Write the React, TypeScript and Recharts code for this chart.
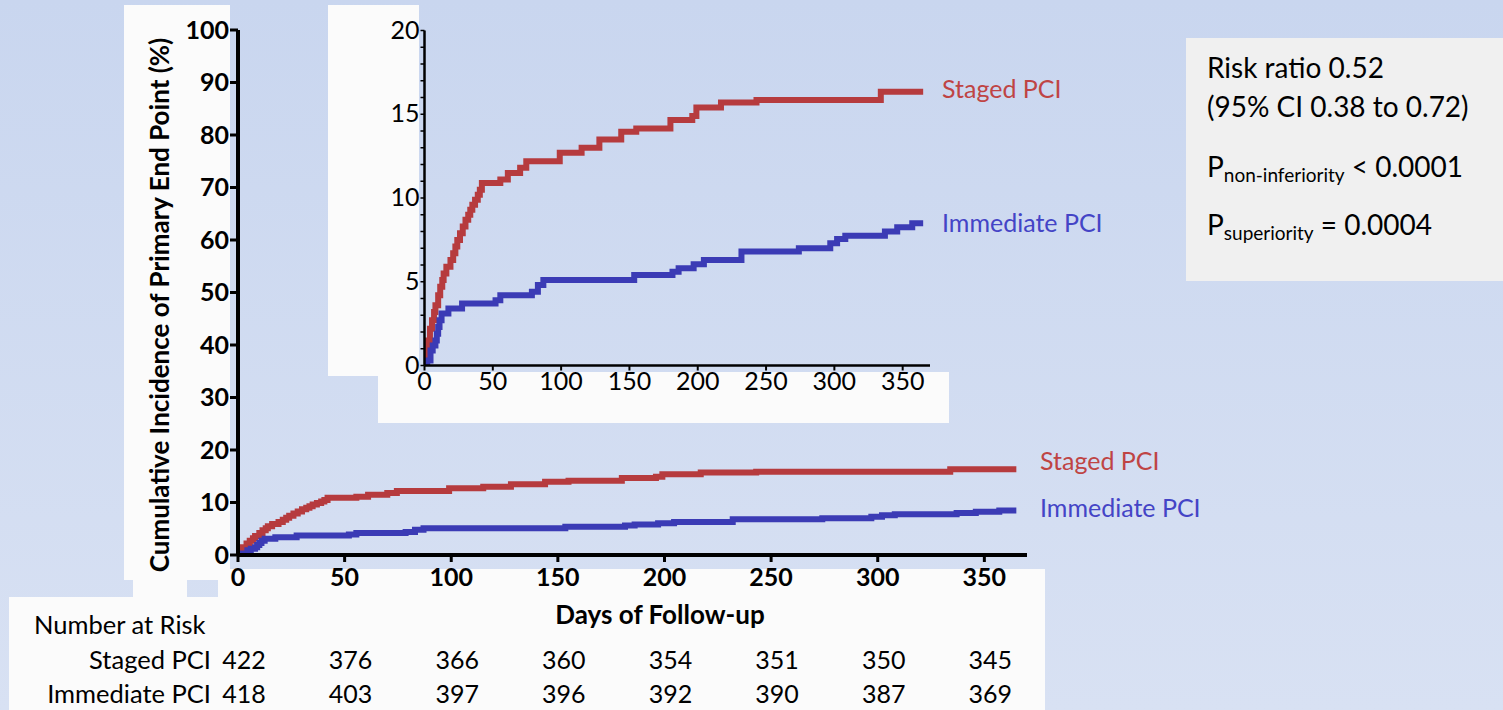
import React from 'react';
import { LineChart, Line, XAxis, YAxis } from 'recharts';

const FONT = 'Lato, "Open Sans", sans-serif';
const W = 1503;
const H = 710;

const RED = '#b63b3e';
const BLUE = '#3b3bb5';
const RED_TEXT = '#bf4444';
const BLUE_TEXT = '#4444c6';

const dayTicks = [0, 50, 100, 150, 200, 250, 300, 350];
const mainYTicks = [0, 10, 20, 30, 40, 50, 60, 70, 80, 90, 100];
const insetYTicks = [0, 1, 2, 3, 4, 5, 6, 7, 8, 9, 10, 11, 12, 13, 14, 15, 16, 17, 18, 19, 20];

const seriesNames = ['Staged PCI', 'Immediate PCI'];

const stagedCurve = [
  { day: 0, pct: 0 }, { day: 1, pct: 0.6 }, { day: 2, pct: 1.5 }, { day: 4, pct: 2.2 },
  { day: 5.5, pct: 2.7 }, { day: 7, pct: 3.2 }, { day: 8, pct: 3.6 }, { day: 10, pct: 4.2 },
  { day: 11.5, pct: 4.7 }, { day: 13, pct: 5.1 }, { day: 14, pct: 5.5 }, { day: 16, pct: 5.9 },
  { day: 19, pct: 6.3 }, { day: 21, pct: 6.7 }, { day: 22.6, pct: 7.1 }, { day: 24, pct: 7.5 },
  { day: 26, pct: 7.9 }, { day: 28, pct: 8.3 }, { day: 30, pct: 8.7 }, { day: 32, pct: 9.0 },
  { day: 33.5, pct: 9.3 }, { day: 35, pct: 9.6 }, { day: 37, pct: 9.9 }, { day: 39, pct: 10.2 },
  { day: 40.5, pct: 10.5 }, { day: 42, pct: 10.9 }, { day: 55.5, pct: 11.1 }, { day: 61, pct: 11.5 },
  { day: 70, pct: 11.8 }, { day: 74.5, pct: 12.2 }, { day: 99, pct: 12.7 }, { day: 115, pct: 13.0 },
  { day: 128, pct: 13.5 }, { day: 144, pct: 13.95 }, { day: 155, pct: 14.15 }, { day: 180, pct: 14.65 },
  { day: 196, pct: 14.9 }, { day: 199, pct: 15.4 }, { day: 217, pct: 15.7 }, { day: 243, pct: 15.85 },
  { day: 334, pct: 16.35 }, { day: 365, pct: 16.35 },
];

const immediateCurve = [
  { day: 0, pct: 0 }, { day: 2, pct: 0.3 }, { day: 4.4, pct: 0.9 }, { day: 6, pct: 1.2 },
  { day: 8, pct: 1.5 }, { day: 9, pct: 1.9 }, { day: 10, pct: 2.3 }, { day: 11, pct: 2.7 },
  { day: 12.5, pct: 3.1 }, { day: 17.5, pct: 3.4 }, { day: 27.5, pct: 3.7 }, { day: 52, pct: 3.9 },
  { day: 55.5, pct: 4.2 }, { day: 78.6, pct: 4.4 }, { day: 83, pct: 4.8 }, { day: 87, pct: 5.1 },
  { day: 153.5, pct: 5.4 }, { day: 181.5, pct: 5.6 }, { day: 186, pct: 5.8 }, { day: 197, pct: 6.05 },
  { day: 204.5, pct: 6.3 }, { day: 232, pct: 6.8 }, { day: 274, pct: 7.0 }, { day: 297, pct: 7.3 },
  { day: 302, pct: 7.55 }, { day: 308, pct: 7.75 }, { day: 337, pct: 8.0 }, { day: 346, pct: 8.25 },
  { day: 357, pct: 8.5 }, { day: 365, pct: 8.5 },
];

const riskDays = [0, 50, 100, 150, 200, 250, 300, 350];
const riskStaged = [422, 376, 366, 360, 354, 351, 350, 345];
const riskImmediate = [418, 403, 397, 396, 392, 390, 387, 369];

const statLines = ['Risk ratio 0.52', '(95% CI 0.38 to 0.72)'];

// main chart geometry
const MAIN_LEFT = 238;
const MAIN_TOP = 30;
const MAIN_BOTTOM = 555;
const MAIN_RIGHT = 1027;
const X_MAX = 370;
const mainX = (d: number) => MAIN_LEFT + (d / X_MAX) * (MAIN_RIGHT - MAIN_LEFT);

const InsetYTick = (props: any) => {
  const { x, y, payload } = props;
  if (payload.value % 5 !== 0) return <g />;
  return (
    <text x={x} y={y - 2} textAnchor="end" dominantBaseline="central" fontFamily={FONT} fontSize={25} fill="#000">
      {payload.value}
    </text>
  );
};

export default function App() {
  return (
    <div
      style={{
        position: 'absolute',
        left: 0,
        top: 0,
        width: W,
        height: H,
        overflow: 'hidden',
        background: 'linear-gradient(180deg, #c9d6ef 0%, #d8e1f3 100%)',
        fontFamily: FONT,
      }}
    >
      <svg width={W} height={H} style={{ position: 'absolute', left: 0, top: 0 }}>
        <rect x={124} y={5} width={106} height={575} fill="#fbfbfb" />
        <rect x={133} y={579} width={54} height={19} fill="#fbfbfb" />
        <rect x={218} y={569} width={827} height={29} fill="#fbfbfb" />
        <rect x={9} y={597} width={1036} height={113} fill="#fbfbfb" />
        <rect x={328} y={5} width={91} height={371} fill="#fbfbfb" />
        <rect x={378} y={372} width={571} height={51} fill="#fbfbfb" />
        <rect x={1186} y={38} width={317} height={243} fill="#f0f0f0" />
      </svg>

      {/* main chart */}
      <div style={{ position: 'absolute', left: 0, top: 0 }}>
        <LineChart
          width={W}
          height={H}
          margin={{ top: MAIN_TOP, right: W - MAIN_RIGHT, bottom: 0, left: 0 }}
        >
          <XAxis
            type="number"
            dataKey="day"
            domain={[0, X_MAX]}
            ticks={dayTicks}
            interval={0}
            height={H - MAIN_BOTTOM}
            axisLine={{ stroke: '#000', strokeWidth: 4 }}
            tickLine={{ stroke: '#000', strokeWidth: 3 }}
            tickSize={7}
            tickMargin={6}
            tick={{ fill: '#000', fontFamily: FONT, fontSize: 25, fontWeight: 700 }}
            allowDataOverflow
          />
          <YAxis
            type="number"
            domain={[0, 100]}
            ticks={mainYTicks}
            interval={0}
            width={MAIN_LEFT}
            axisLine={{ stroke: '#000', strokeWidth: 4 }}
            tickLine={{ stroke: '#000', strokeWidth: 3 }}
            tickSize={8}
            tickMargin={1}
            tick={{ fill: '#000', fontFamily: FONT, fontSize: 25, fontWeight: 700 }}
            allowDataOverflow
          />
          <Line
            data={stagedCurve}
            dataKey="pct"
            type="stepAfter"
            stroke={RED}
            strokeWidth={6}
            dot={false}
            isAnimationActive={false}
          />
          <Line
            data={immediateCurve}
            dataKey="pct"
            type="stepAfter"
            stroke={BLUE}
            strokeWidth={6}
            dot={false}
            isAnimationActive={false}
          />
        </LineChart>
      </div>

      {/* inset chart */}
      <div style={{ position: 'absolute', left: 330, top: 0 }}>
        <LineChart width={620} height={430} margin={{ top: 30.5, right: 20, bottom: 0, left: 0 }}>
          <XAxis
            type="number"
            dataKey="day"
            domain={[0, X_MAX]}
            ticks={dayTicks}
            interval={0}
            height={64.5}
            axisLine={{ stroke: '#000', strokeWidth: 2.5 }}
            tickLine={{ stroke: '#000', strokeWidth: 2 }}
            tickSize={5}
            tickMargin={2}
            tick={{ fill: '#000', fontFamily: FONT, fontSize: 25 }}
            allowDataOverflow
          />
          <YAxis
            type="number"
            domain={[0, 20]}
            ticks={insetYTicks}
            interval={0}
            width={94.5}
            axisLine={{ stroke: '#000', strokeWidth: 2.5 }}
            tickLine={{ stroke: '#000', strokeWidth: 1.5 }}
            tickSize={4}
            tickMargin={1}
            tick={<InsetYTick />}
            allowDataOverflow
          />
          <Line
            data={stagedCurve}
            dataKey="pct"
            type="stepAfter"
            stroke={RED}
            strokeWidth={6}
            dot={false}
            isAnimationActive={false}
          />
          <Line
            data={immediateCurve}
            dataKey="pct"
            type="stepAfter"
            stroke={BLUE}
            strokeWidth={6}
            dot={false}
            isAnimationActive={false}
          />
        </LineChart>
      </div>

      {/* overlay texts */}
      <svg width={W} height={H} style={{ position: 'absolute', left: 0, top: 0, pointerEvents: 'none' }}>
        <text
          x={0}
          y={0}
          transform="translate(159,305) rotate(-90)"
          textAnchor="middle"
          dominantBaseline="central"
          fontFamily={FONT}
          fontWeight={700}
          fontSize={26}
          fill="#000"
        >
          Cumulative Incidence of Primary End Point (%)
        </text>
        <text x={660} y={614} textAnchor="middle" dominantBaseline="central" fontFamily={FONT} fontWeight={700} fontSize={26} fill="#000">
          Days of Follow-up
        </text>

        {/* series labels main */}
        <text x={1040} y={460} dominantBaseline="central" fontFamily={FONT} fontSize={25} fill={RED_TEXT}>{seriesNames[0]}</text>
        <text x={1040} y={507} dominantBaseline="central" fontFamily={FONT} fontSize={25} fill={BLUE_TEXT}>{seriesNames[1]}</text>
        {/* series labels inset */}
        <text x={942} y={88} dominantBaseline="central" fontFamily={FONT} fontSize={25} fill={RED_TEXT}>{seriesNames[0]}</text>
        <text x={942} y={222} dominantBaseline="central" fontFamily={FONT} fontSize={25} fill={BLUE_TEXT}>{seriesNames[1]}</text>

        {/* number at risk */}
        <text x={34} y={624} dominantBaseline="central" fontFamily={FONT} fontSize={25.5} fill="#000">Number at Risk</text>
        <text x={211} y={659} textAnchor="end" dominantBaseline="central" fontFamily={FONT} fontSize={25.5} fill="#000">{seriesNames[0]}</text>
        <text x={211} y={693} textAnchor="end" dominantBaseline="central" fontFamily={FONT} fontSize={25.5} fill="#000">{seriesNames[1]}</text>
        {riskDays.map((d, i) => (
          <text key={'s' + d} x={mainX(d) + 6} y={659} textAnchor="middle" dominantBaseline="central" fontFamily={FONT} fontSize={25} fill="#000">
            {riskStaged[i]}
          </text>
        ))}
        {riskDays.map((d, i) => (
          <text key={'m' + d} x={mainX(d) + 6} y={693} textAnchor="middle" dominantBaseline="central" fontFamily={FONT} fontSize={25} fill="#000">
            {riskImmediate[i]}
          </text>
        ))}

        {/* stats box */}
        <text x={1207} y={67} dominantBaseline="central" fontFamily={FONT} fontSize={28} fill="#000">{statLines[0]}</text>
        <text x={1207} y={106} dominantBaseline="central" fontFamily={FONT} fontSize={28} fill="#000">{statLines[1]}</text>
        <text x={1207} y={166} dominantBaseline="central" fontFamily={FONT} fontSize={28} fill="#000">
          P
          <tspan fontSize={19} dy={8}>non-inferiority</tspan>
          <tspan dy={-8}> &lt; 0.0001</tspan>
        </text>
        <text x={1207} y={224} dominantBaseline="central" fontFamily={FONT} fontSize={28} fill="#000">
          P
          <tspan fontSize={19} dy={8}>superiority</tspan>
          <tspan dy={-8}> = 0.0004</tspan>
        </text>
      </svg>
    </div>
  );
}
